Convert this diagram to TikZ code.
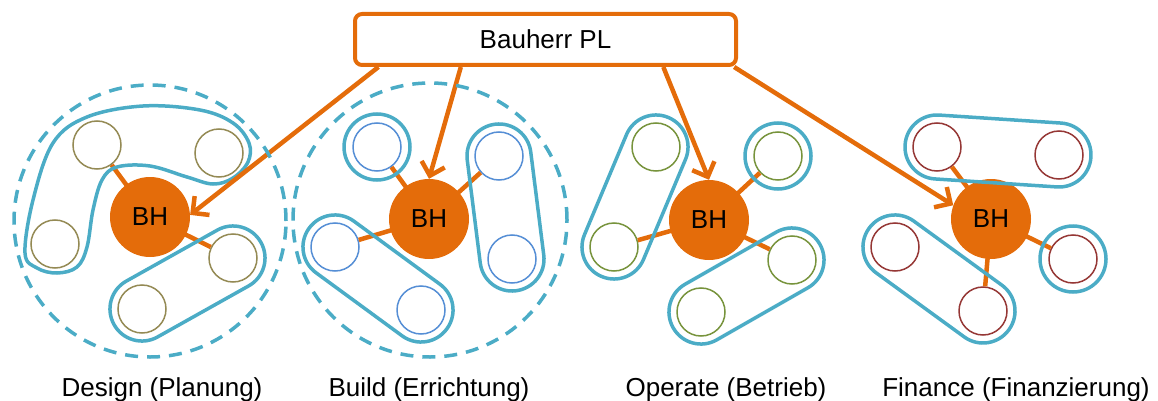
\documentclass[tikz,border=0pt]{standalone}
\usepackage{fontspec}
\setmainfont{Liberation Sans}
\usetikzlibrary{arrows.meta,calc}
\definecolor{bhorange}{HTML}{E46C0A}
\definecolor{grpblue}{HTML}{4BACC6}
\definecolor{colive}{HTML}{948A54}
\definecolor{cblue}{HTML}{558ED5}
\definecolor{cgreen}{HTML}{77933C}
\definecolor{cred}{HTML}{953735}
% capsule round two member circles
\newcommand{\capsule}[2]{%
  \path let \p1=($(#2)-(#1)$) in \pgfextra{%
    \pgfmathsetmacro{\capang}{atan2(\y1,\x1)}\xdef\capang{\capang}%
    \pgfmathsetmacro{\caplen}{veclen(\x1,\y1)}\xdef\caplen{\caplen}};
  \draw[grp, shift={(#1)}, rotate=\capang, rounded corners=31.9pt]
    (-32pt,-32pt) rectangle (\caplen pt+32pt,32pt);
}
\newcommand{\ringone}[1]{\draw[grp] (#1) circle[radius=33pt];}

\begin{document}
\begin{tikzpicture}[
        x=1pt, y=-1pt,
        every node/.style={font=\fontsize{26}{30}\selectfont},
        bh/.style={circle, fill=bhorange, minimum size=80pt, inner sep=0pt},
        member/.style={circle, draw=#1, line width=1.5pt, minimum size=48pt, inner sep=0pt},
        link/.style={draw=bhorange, line width=4.5pt},
        order/.style={draw=bhorange, line width=4.5pt,
          -{Straight Barb[length=12pt,width=24pt,line width=4.5pt]}},
        grp/.style={draw=grpblue, line width=3.5pt},
        ring/.style={draw=grpblue, line width=3.5pt, dash pattern=on 13pt off 9pt},
        lbl/.style={anchor=base},
      ]
      \useasboundingbox (0,0) rectangle (1158,401);
      \node[draw=bhorange, line width=4pt, rounded corners=7pt,
        minimum width=381pt, minimum height=51pt] (pl) at (545.5,39.5) {Bauherr PL};

      % Design
      \node[member=colive] (d1) at (97,145) {};
      \node[member=colive] (d2) at (219,153) {};
      \node[member=colive] (d3) at (55,244) {};
      \node[member=colive] (d4) at (233,258) {};
      \node[member=colive] (d5) at (142,309) {};
      \draw[link] (150,217) -- (d1);
      \draw[link] (150,217) -- (d4);
      \node[bh] (bhd) at (150,217) {BH};

      % Build
      \node[member=cblue] (b1) at (377,147) {};
      \node[member=cblue] (b2) at (499,156) {};
      \node[member=cblue] (b3) at (335,247) {};
      \node[member=cblue] (b4) at (421,310) {};
      \node[member=cblue] (b5) at (512,259) {};
      \draw[link] (429,219) -- (b1);
      \draw[link] (429,219) -- (b2);
      \draw[link] (429,219) -- (b3);
      \node[bh] (bhb) at (429,219) {BH};

      % Operate
      \node[member=cgreen] (o1) at (656,147) {};
      \node[member=cgreen] (o2) at (778,156) {};
      \node[member=cgreen] (o3) at (614,247) {};
      \node[member=cgreen] (o4) at (701,312) {};
      \node[member=cgreen] (o5) at (792,260) {};
      \draw[link] (709,220) -- (o2);
      \draw[link] (709,220) -- (o3);
      \draw[link] (709,220) -- (o5);
      \node[bh] (bho) at (709,220) {BH};

      % Finance
      \node[member=cred] (f1) at (937,147) {};
      \node[member=cred] (f2) at (1059,155) {};
      \node[member=cred] (f3) at (895,247) {};
      \node[member=cred] (f4) at (983,311) {};
      \node[member=cred] (f5) at (1073,259) {};
      \draw[link] (991,219) -- (f1);
      \draw[link] (991,219) -- (f4);
      \draw[link] (991,219) -- (f5);
      \node[bh] (bhf) at (991,219) {BH};

      % groups
      \draw[grp] plot[smooth cycle, tension=0.6] coordinates {
        (25,253) (33,200) (53,143) (87,117) (143,106) (200,110) (233,123)
        (249,143) (248,162) (233,178) (213,184) (187,177) (150,166)
        (117,167) (102,180) (93,210) (87,247) (77,267) (57,273) (37,268)};
      \capsule{d5}{d4}
      \ringone{b1}
      \capsule{b2}{b5}
      \capsule{b3}{b4}
      \capsule{o1}{o3}
      \ringone{o2}
      \capsule{o4}{o5}
      \capsule{f1}{f2}
      \capsule{f3}{f4}
      \ringone{f5}

      % orders from Bauherr
      \draw[order] ($(pl.south west)!0.066!(pl.south east)$) -- (bhd.3);
      \draw[order] ($(pl.south west)!0.28!(pl.south east)$) -- (bhb.north);
      \draw[order] ($(pl.south west)!0.806!(pl.south east)$) -- (bho.north);
      \draw[order] ($(pl.south west)!0.99!(pl.south east)$) -- (bhf.160);

      \draw[ring] (150,221) circle[radius=136pt];
      \draw[ring] (430,220) circle[radius=137pt];

      \node[lbl] (ldesign) at (162,396) {Design (Planung)};
      \node[lbl] (lbuild) at (429,396) {Build (Errichtung)};
      \node[lbl] (loperate) at (726,396) {Operate (Betrieb)};
      \node[lbl] (lfinance) at (1016,396) {Finance (Finanzierung)};
\end{tikzpicture}
\end{document}
